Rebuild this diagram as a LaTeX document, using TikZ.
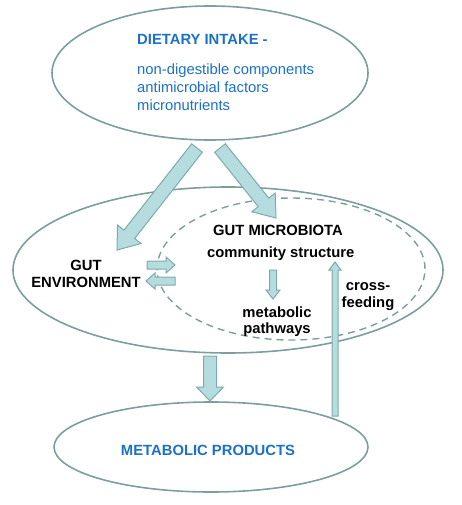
\documentclass[tikz,border=0pt]{standalone}
\usepackage{fontspec}
\setmainfont{Liberation Sans}
\usetikzlibrary{shapes.geometric,calc}
\definecolor{ringcol}{HTML}{7C9E9E}
\definecolor{arrfill}{HTML}{B5DDE0}
\definecolor{arrline}{HTML}{7FA9AB}
\definecolor{bluetxt}{HTML}{1B70C8}
\tikzset{
  ring/.style={ellipse, draw=ringcol, line width=1.6pt, inner sep=0pt, outer sep=0pt},
  dashring/.style={ellipse, draw=ringcol, line width=1.4pt, dash pattern=on 7pt off 5pt, inner sep=0pt, outer sep=0pt},
  barrow/.style={fill=arrfill, draw=arrline, line width=1pt, line join=miter},
  bluebold/.style={text=bluetxt, font=\fontsize{14.8}{18}\selectfont\bfseries, inner sep=0pt},
  bluereg/.style={text=bluetxt, font=\fontsize{14.8}{18}\selectfont, inner sep=0pt},
  blackbold/.style={text=black, font=\fontsize{14.8}{18}\selectfont\bfseries, inner sep=0pt},
}
% block arrow: #1 start, #2 tip, #3 half shaft width, #4 half head width, #5 head length
\newcommand{\blockarr}[5]{%
  \coordinate (bhd) at ($(#2)!#5!(#1)$);
  \draw[barrow] ($(#1)!#3!90:(#2)$) -- ($(bhd)!#3!-90:(#1)$) -- ($(bhd)!#4!-90:(#1)$)
     -- (#2) -- ($(bhd)!#4!90:(#1)$) -- ($(bhd)!#3!90:(#1)$) -- ($(#1)!#3!-90:(#2)$) -- cycle;}
\begin{document}
\begin{tikzpicture}[x=1pt,y=-1pt]
\useasboundingbox (0,0) rectangle (462,505);
% ellipses
\node[ring, minimum width=316pt, minimum height=134pt] (diet) at (210,73) {};
\node[ring, minimum width=430pt, minimum height=166pt] (gut) at (228,270) {};
\node[dashring, minimum width=268pt, minimum height=142pt] (micro) at (291,269) {};
\node[ring, minimum width=314pt, minimum height=90pt] (prod) at (211,447) {};
% texts
\node[bluebold, anchor=base west] (t1) at (137,45) {DIETARY INTAKE -};
\node[bluereg, anchor=base west] (t2) at (137,75) {non-digestible components};
\node[bluereg, anchor=base west] (t3) at (137,93) {antimicrobial factors};
\node[bluereg, anchor=base west] (t4) at (137,111) {micronutrients};
\node[blackbold, anchor=base west] (gm) at (213,235.5) {GUT MICROBIOTA};
\node[blackbold, anchor=base west] (cs) at (207,257) {community structure};
\node[blackbold, anchor=base] (ge1) at (86,270) {GUT};
\node[blackbold, anchor=base] (ge2) at (86,287) {ENVIRONMENT};
\node[blackbold, anchor=base] (mp1) at (277,317) {metabolic};
\node[blackbold, anchor=base] (mp2) at (277,333) {pathways};
\node[blackbold, anchor=base] (cf1) at (368,290) {cross-};
\node[blackbold, anchor=base] (cf2) at (368,307) {feeding};
\node[bluebold, anchor=base] (prt) at (208,455) {METABOLIC PRODUCTS};
% arrow end points
\coordinate (aLs) at (197,148);
\coordinate (aLe) at (117,250);
\coordinate (aRs) at (220,148);
\coordinate (aRe) at (276,218);
\coordinate (aBs) at (210,356);
\coordinate (aBe) at (210,401);
\coordinate (aCs) at (335,416);
\coordinate (aCe) at (335,262);
\coordinate (aMs) at (273,270);
\coordinate (aMe) at (273,299);
\coordinate (aXs) at (147,265);
\coordinate (aXe) at (175,265);
\coordinate (aYs) at (175,281);
\coordinate (aYe) at (146,281);
% arrows
\blockarr{aLs}{aLe}{6.8pt}{15pt}{20pt}
\blockarr{aRs}{aRe}{6.8pt}{15pt}{20pt}
\blockarr{aBs}{aBe}{6.5pt}{13.5pt}{14pt}
\blockarr{aCs}{aCe}{3pt}{6pt}{8pt}
\blockarr{aMs}{aMe}{3.5pt}{7pt}{9pt}
\blockarr{aXs}{aXe}{4pt}{8pt}{9pt}
\blockarr{aYs}{aYe}{4pt}{8pt}{9pt}
\end{tikzpicture}
\end{document}
